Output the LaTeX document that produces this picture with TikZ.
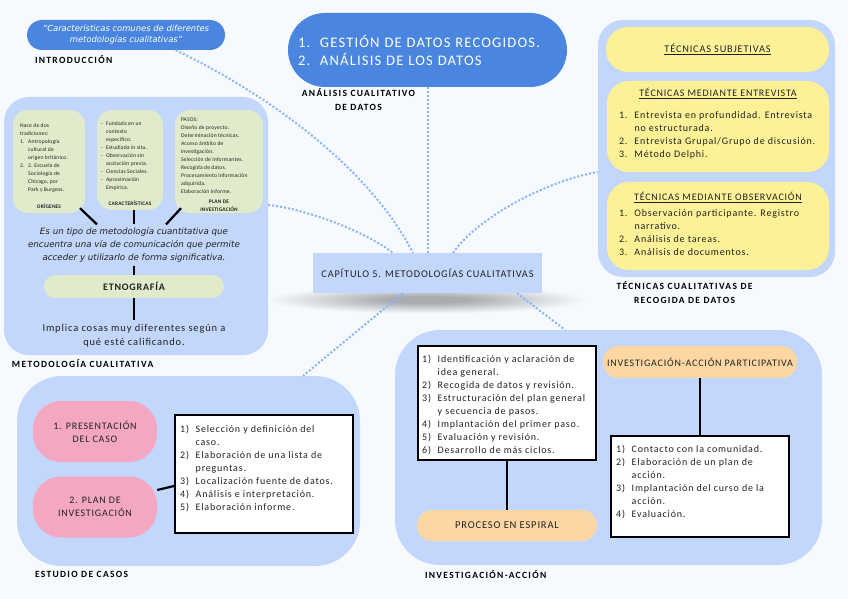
\documentclass[tikz,border=0pt]{standalone}
\usepackage{fontspec}
\setmainfont{Carlito}[LetterSpace=8]
\newfontfamily\tightfont{Carlito}[LetterSpace=3]
\newfontfamily\labelfont{Carlito}[LetterSpace=14]
\newfontfamily\handfont{DejaVu Sans}
\usetikzlibrary{positioning}
\definecolor{bgcol}{HTML}{F6F9FE}
\definecolor{contblue}{HTML}{C2D7FB}
\definecolor{darkblue}{HTML}{4A86E0}
\definecolor{dotblue}{HTML}{8AB4F8}
\definecolor{greencol}{HTML}{E1EBCB}
\definecolor{yellowcol}{HTML}{FDF197}
\definecolor{pinkcol}{HTML}{F4A7C1}
\definecolor{peachcol}{HTML}{FDD7A3}
\definecolor{inkcol}{HTML}{222222}
\newcommand{\numbox}[2][1.55em]{\makebox[#1][l]{#2}}
\tikzset{
    container/.style={rectangle, fill=contblue, rounded corners=25pt},
    bluepill/.style={rectangle, fill=darkblue, text=white, align=center},
    central/.style={rectangle, fill=contblue, minimum width=229pt, minimum height=40pt, font=\fontsize{10.3}{12}\selectfont, text=inkcol},
    greenbox/.style={rectangle, fill=greencol, rounded corners=15pt},
    yellowbox/.style={rectangle, fill=yellowcol, rounded corners=22pt, minimum width=222pt, text=inkcol, font=\fontsize{10.3}{12}\selectfont},
    pinkpill/.style={rectangle, fill=pinkcol, rounded corners=28pt, minimum width=124pt, minimum height=61pt, align=center, text=inkcol, font=\fontsize{10}{13}\selectfont},
    peachpill/.style={rectangle, fill=peachcol, rounded corners=15.5pt, minimum height=31pt, text=inkcol, font=\fontsize{10.5}{12}\selectfont},
    listbox/.style={rectangle, draw=black, line width=2pt, fill=white, minimum width=178pt},
    listtext/.style={align=left, inner sep=0pt, text=inkcol, font=\fontsize{10}{13}\selectfont},
    smalltext/.style={align=left, inner sep=0pt, text=inkcol, font=\tightfont\fontsize{5.6}{8}\selectfont},
    smalltitle/.style={align=center, inner sep=0pt, text=inkcol, font=\tightfont\fontsize{5.4}{8}\selectfont\bfseries},
    boxtitle/.style={inner sep=0pt, text=inkcol, font=\fontsize{10}{12}\selectfont},
    caption/.style={align=center, inner sep=0pt, text=black, font=\labelfont\fontsize{9.5}{14}\selectfont\bfseries},
    link/.style={draw=black, line width=2.2pt},
    dotlink/.style={draw=dotblue, line width=2pt, dash pattern=on 2pt off 2pt}
}
\begin{document}
\begin{tikzpicture}[x=1pt, y=-1pt]
    \fill[bgcol] (0,0) rectangle (848,599);
    \useasboundingbox (0,0) rectangle (848,599);

    % Shadow under the central node
    \foreach \i in {1,...,26}
        \fill[black, opacity=0.012] (427,300) ellipse ({162pt-4.6pt*\i} and {14pt-0.4pt*\i});

    % Central node
    \node[central] (cap) at (427.5,273) {CAPÍTULO 5. METODOLOGÍAS CUALITATIVAS};

    % Introduction
    \node[bluepill, rounded corners=15pt, minimum width=198pt, minimum height=30pt, font=\handfont\itshape\fontsize{8.4}{11}\selectfont] (intro) at (126,35) {“Características comunes de diferentes\\ metodologías cualitativas”};
    \node[caption, below right=5pt and 8pt of intro.south west] (introlab) {INTRODUCCIÓN};

    % Analysis of data
    \node[bluepill, rounded corners=37pt, minimum width=279pt, minimum height=74pt, text width=259pt, align=left, font=\fontsize{14.6}{18}\selectfont] (anal) at (427.5,50) {1.\ \ GESTIÓN DE DATOS RECOGIDOS.\\ 2.\ \ ANÁLISIS DE LOS DATOS};
    \node[caption, below=1pt of anal.south, xshift=-69pt] (anallab) {ANÁLISIS CUALITATIVO\\ DE DATOS};

    % Qualitative methodology
    \node[container, minimum width=264pt, minimum height=258pt] (metod) at (136,226) {};
    \node[greenbox, minimum width=72pt, minimum height=103pt] (orig) at (49,161.5) {};
    \node[smalltext, below right=14pt and 7pt of orig.north west] (origtxt) {Nace de dos\\ tradiciones:\\ \numbox[1.45em]{1.}Antropología\\ \numbox[1.45em]{}cultural de\\ \numbox[1.45em]{}origen británico.\\ \numbox[1.45em]{2.}2. Escuela de\\ \numbox[1.45em]{}Sociología de\\ \numbox[1.45em]{}Chicago, por\\ \numbox[1.45em]{}Park y Burgess.};
    \node[smalltitle, above=4pt of orig.south] (origtit) {ORÍGENES};
    \node[greenbox, minimum width=66pt, minimum height=100pt] (carac) at (130,160) {};
    \node[smalltext, below right=12pt and 4pt of carac.north west] (caractxt) {\numbox[0.9em]{-}Fundada en un\\ \numbox[0.9em]{}contexto\\ \numbox[0.9em]{}específico.\\ \numbox[0.9em]{-}Estudiada in situ.\\ \numbox[0.9em]{-}Observación sin\\ \numbox[0.9em]{}acotación previa.\\ \numbox[0.9em]{-}Ciencias Sociales.\\ \numbox[0.9em]{-}Aproximación\\ \numbox[0.9em]{}Empírica.};
    \node[smalltitle, above=4pt of carac.south] (carattit) {CARACTERÍSTICAS};
    \node[greenbox, minimum width=88pt, minimum height=103pt] (plan) at (219,161.5) {};
    \node[smalltext, below right=8pt and 6pt of plan.north west] (plantxt) {PASOS:\\ Diseño de proyecto.\\ Determinación técnicas.\\ Acceso ámbito de\\ investigación.\\ Selección de informantes.\\ Recogida de datos.\\ Procesamiento información\\ adquirida.\\ Elaboración informe.};
    \node[smalltitle, above=1.5pt of plan.south] (plantit) {PLAN DE\\ INVESTIGACIÓN};
    \node[align=center, inner sep=3pt, text=inkcol, font=\handfont\itshape\fontsize{8.7}{13}\selectfont] (desc) at (134,245) {Es un tipo de metodología cuantitativa que\\ encuentra una vía de comunicación que permite\\ acceder y utilizarlo de forma significativa.};
    \node[rectangle, fill=greencol, rounded corners=11.5pt, minimum width=180pt, minimum height=23pt, text=inkcol, font=\fontsize{10}{12}\selectfont\bfseries] (etno) at (134,286.5) {ETNOGRAFÍA};
    \node[align=center, text=inkcol, font=\fontsize{10.5}{14.5}\selectfont] (impl) at (134,335.5) {Implica cosas muy diferentes según a\\ qué esté calificando.};
    \draw[link] ([xshift=31pt,yshift=5pt]orig.south) -- ([xshift=-37pt]desc.north);
    \draw[link] (carac.south -| desc.north) -- (desc.north);
    \draw[link] ([xshift=-38pt,yshift=5pt]plan.south) -- ([xshift=32pt]desc.north);
    \draw[link] (desc.south) -- (etno.north);
    \draw[link] (etno.south) -- (impl.north);
    \node[caption, below right=4pt and 8pt of metod.south west] (metodlab) {METODOLOGÍA CUALITATIVA};

    % Qualitative techniques
    \node[container, minimum width=237pt, minimum height=257pt] (tecn) at (716.5,148.5) {};
    \node[yellowbox, minimum width=223pt, minimum height=45pt] (subj) at (717.5,49.5) {\underline{TÉCNICAS SUBJETIVAS}};
    \node[yellowbox, minimum height=91pt] (entrev) at (718,126.5) {};
    \node[boxtitle, below=7pt of entrev.north] (entrevtit) {\underline{TÉCNICAS MEDIANTE ENTREVISTA}};
    \node[listtext, below right=31pt and 12pt of entrev.north west] (entrevlist) {\numbox{1.}Entrevista en profundidad. Entrevista\\ \numbox{}no estructurada.\\ \numbox{2.}Entrevista Grupal/Grupo de discusión.\\ \numbox{3.}Método Delphi.};
    \node[yellowbox, minimum height=88pt] (observ) at (718,226) {};
    \node[boxtitle, below=10pt of observ.north] (observtit) {\underline{TÉCNICAS MEDIANTE OBSERVACIÓN}};
    \node[listtext, below right=28pt and 12pt of observ.north west] (observlist) {\numbox{1.}Observación participante. Registro\\ \numbox{}narrativo.\\ \numbox{2.}Análisis de tareas.\\ \numbox{3.}Análisis de documentos.};
    \node[caption, below=4pt of tecn.south, xshift=-32pt] (tecnlab) {TÉCNICAS CUALITATIVAS DE\\ RECOGIDA DE DATOS};

    % Case studies
    \node[container, rounded corners=45pt, minimum width=343pt, minimum height=190pt] (estud) at (188.5,471) {};
    \node[pinkpill] (present) at (95,431.5) {1. PRESENTACIÓN\\ DEL CASO};
    \node[pinkpill] (planinv) at (95,507) {2. PLAN DE\\ INVESTIGACIÓN};
    \node[listbox, minimum height=118pt] (steps) at (264,474) {};
    \node[listtext, below right=11pt and 6pt of steps.north west] (stepstxt) {\numbox{1)}Selección y definición del\\ \numbox{}caso.\\ \numbox{2)}Elaboración de una lista de\\ \numbox{}preguntas.\\ \numbox{3)}Localización fuente de datos.\\ \numbox{4)}Análisis e interpretación.\\ \numbox{5)}Elaboración informe.};
    \draw[link] ([yshift=17pt]planinv.east) -- ([yshift=-12pt]steps.west);
    \node[caption, below right=5pt and 18pt of estud.south west] (estudlab) {ESTUDIO DE CASOS};

    % Action research
    \node[container, rounded corners=45pt, minimum width=427pt, minimum height=235pt] (invacc) at (608.5,447.5) {};
    \node[listbox, minimum height=114pt] (spiral) at (507,403) {};
    \node[listtext, below right=10pt and 5pt of spiral.north west] (spiraltxt) {\numbox{1)}Identificación y aclaración de\\ \numbox{}idea general.\\ \numbox{2)}Recogida de datos y revisión.\\ \numbox{3)}Estructuración del plan general\\ \numbox{}y secuencia de pasos.\\ \numbox{4)}Implantación del primer paso.\\ \numbox{5)}Evaluación y revisión.\\ \numbox{6)}Desarrollo de más ciclos.};
    \node[peachpill, minimum width=180pt] (espiral) at (507,525.5) {PROCESO EN ESPIRAL};
    \node[peachpill, minimum width=194pt, minimum height=32pt, inner xsep=2pt, font=\fontsize{10}{12}\selectfont] (partic) at (700,362) {INVESTIGACIÓN-ACCIÓN PARTICIPATIVA};
    \node[listbox, minimum height=101pt] (fases) at (700,486.5) {};
    \node[listtext, below right=10pt and 6pt of fases.north west] (fasestxt) {\numbox{1)}Contacto con la comunidad.\\ \numbox{2)}Elaboración de un plan de\\ \numbox{}acción.\\ \numbox{3)}Implantación del curso de la\\ \numbox{}acción.\\ \numbox{4)}Evaluación.};
    \draw[link] (spiral.south) -- (espiral.north);
    \draw[link] (partic.south) -- (fases.north);
    \node[caption, below right=5pt and 30pt of invacc.south west] (invacclab) {INVESTIGACIÓN-ACCIÓN};

    % Dotted connectors from the central node
    \draw[dotlink] (intro.-17) .. controls (255,88) and (365,160) .. ([xshift=-14.5pt]cap.north);
    \draw[dotlink] ([yshift=21pt]metod.east) .. controls (300,208) and (360,228) .. ([xshift=-34.5pt]cap.north);
    \draw[dotlink] (anal.south) -- (cap.north);
    \draw[dotlink] ([xshift=25.5pt]cap.north) .. controls (480,215) and (550,180) .. ([yshift=-23.5pt]tecn.west);
    \draw[dotlink] ([xshift=-24.5pt]cap.south) -- ([xshift=114.5pt]estud.north);
    \draw[dotlink] ([xshift=89.5pt]cap.south) -- ([xshift=-43.5pt]invacc.north);
\end{tikzpicture}
\end{document}
